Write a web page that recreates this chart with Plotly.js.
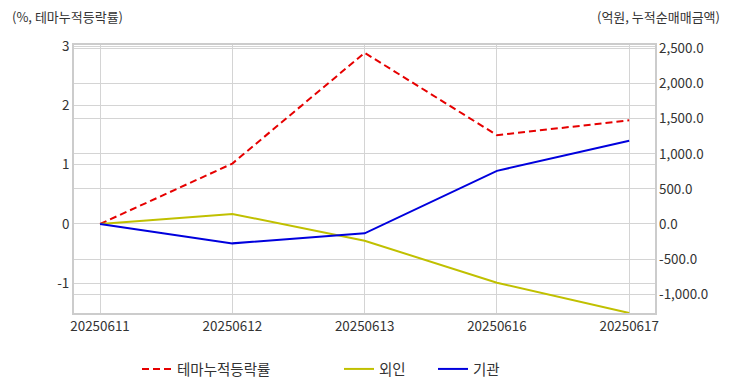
<!DOCTYPE html>
<html>
<head>
<meta charset="utf-8">
<script src="https://cdn.plot.ly/plotly-3.0.1.min.js"></script>
<style>
html,body{margin:0;padding:0;background:#fff;}
#chart{width:732px;height:392px;}
</style>
</head>
<body>
<div id="chart"></div>
<script>
// Data
var dates = ['20250611', '20250612', '20250613', '20250616', '20250617'];
var themeReturn = [0, 1.02, 2.89, 1.50, 1.75];      // %, left axis
var foreignNet = [0, 143, -238, -838, -1268];         // 억원, right axis
var instNet = [0, -276, -133, 757, 1186];             // 억원, right axis

var leftTickVals = [3, 2, 1, 0, -1];
var leftTickText = ['3', '2', '1', '0', '-1'];
var rightTickVals = [2500, 2000, 1500, 1000, 500, 0, -500, -1000];
var rightTickText = ['2,500.0', '2,000.0', '1,500.0', '1,000.0', '500.0', '0.0', '-500.0', '-1,000.0'];

var seriesNames = ['테마누적등락률', '외인', '기관'];
var leftTitle = '(%, 테마누적등락률)';
var rightTitle = '(억원, 누적순매매금액)';

var FONT = '"Noto Sans CJK KR", "Noto Sans", sans-serif';
var TXT = '#333333';
var GRID = '#d4d4d4';

var traces = [
  {x: dates, y: themeReturn, name: seriesNames[0], type: 'scatter', mode: 'lines',
   line: {color: '#e60000', width: 2, dash: '7px,4px'}, yaxis: 'y', legend: 'legend'},
  {x: dates, y: foreignNet, name: seriesNames[1], type: 'scatter', mode: 'lines',
   line: {color: '#c0c000', width: 2}, yaxis: 'y2', legend: 'legend2'},
  {x: dates, y: instNet, name: seriesNames[2], type: 'scatter', mode: 'lines',
   line: {color: '#0000dd', width: 2}, yaxis: 'y2', legend: 'legend3'}
];

var legendBase = {orientation: 'h', yref: 'container', yanchor: 'middle', y: (392 - 369) / 392,
  xref: 'container', xanchor: 'left',
  font: {family: FONT, size: 14.5, color: TXT}, bgcolor: 'rgba(0,0,0,0)', itemwidth: 30};

var layout = {
  width: 732, height: 392,
  margin: {l: 74, r: 77, t: 45, b: 79, autoexpand: false},
  paper_bgcolor: '#ffffff', plot_bgcolor: '#ffffff',
  font: {family: FONT, size: 13, color: TXT},
  showlegend: true,
  xaxis: {type: 'category', range: [-0.197, 4.195], showgrid: true, gridcolor: GRID, gridwidth: 1,
    showline: true, linecolor: '#cccccc', linewidth: 2, mirror: true,
    ticks: '', tickfont: {family: FONT, size: 13.4, color: TXT}, zeroline: false, fixedrange: true},
  yaxis: {range: [-1.503, 3.022], tickvals: leftTickVals, ticktext: leftTickText,
    showgrid: true, gridcolor: GRID, gridwidth: 1, zeroline: false,
    showline: true, linecolor: '#cccccc', linewidth: 2, mirror: true,
    ticks: '', ticklabelstandoff: 0, tickfont: {family: FONT, size: 13.4, color: TXT}},
  yaxis2: {overlaying: 'y', side: 'right', range: [-1268, 2550], tickvals: rightTickVals, ticktext: rightTickText,
    showgrid: true, gridcolor: GRID, gridwidth: 1, zeroline: false, showline: false,
    ticks: '', ticklabelstandoff: 3, tickfont: {family: FONT, size: 13.4, color: TXT}},
  legend: Object.assign({}, legendBase, {x: 137 / 732}),
  legend2: Object.assign({}, legendBase, {x: 339 / 732}),
  legend3: Object.assign({}, legendBase, {x: 433 / 732}),
  annotations: [
    {text: leftTitle, xref: 'paper', yref: 'paper', x: (10 - 74) / 581, y: (313 - 16) / 268,
     xanchor: 'left', yanchor: 'middle', showarrow: false, font: {family: FONT, size: 13, color: TXT}},
    {text: rightTitle, xref: 'paper', yref: 'paper', x: (722 - 74) / 581, y: (313 - 16) / 268,
     xanchor: 'right', yanchor: 'middle', showarrow: false, font: {family: FONT, size: 13, color: TXT}}
  ]
};

Plotly.newPlot('chart', traces, layout, {displayModeBar: false, staticPlot: true});
</script>
</body>
</html>
